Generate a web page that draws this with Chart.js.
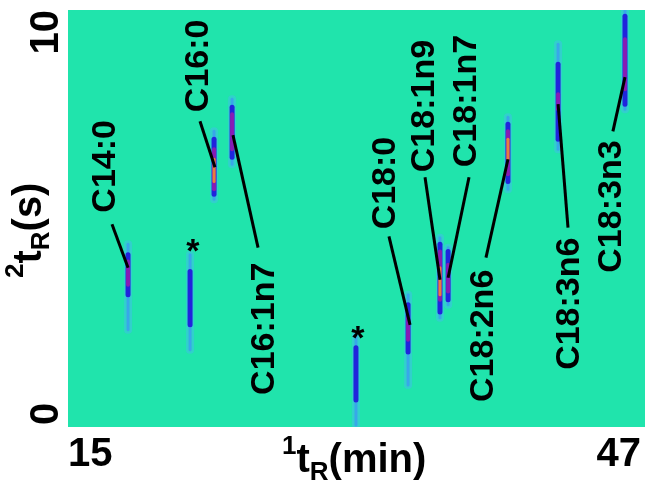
<!DOCTYPE html>
<html>
<head>
<meta charset="utf-8">
<script src="https://cdn.jsdelivr.net/npm/chart.js@4/dist/chart.umd.min.js"></script>
<style>
  html, body { margin: 0; padding: 0; background: #ffffff; }
  #wrap { width: 645px; height: 485px; }
</style>
</head>
<body>
<div id="wrap"><canvas id="gcChart" width="645" height="485"></canvas></div>
<script>
// ejes
const xTicks = [15, 47];
const yTicks = [0, 10];

// picos: 1tR (min) y franjas en 2tR (s) de cada capa de color
const peakX       = [18.33, 21.77, 23.10, 24.10, 30.97, 33.86, 35.63, 36.08, 39.40, 42.18, 45.89];
const haloTop     = [4.38, 4.13, 7.09, 7.86, 2.21, 3.17, 4.54, 4.30, 7.43, 9.18, 9.98];
const haloBottom  = [2.33, 1.85, 5.46, 6.30, 0.05, 1.01, 2.62, 2.93, 5.70, 6.66, 7.62];
const blueTop     = [4.13, 3.73, 6.90, 7.67, 1.90, 2.93, 4.38, 4.21, 7.26, 8.70, 9.85];
const blueBottom  = [3.17, 2.45, 5.58, 6.47, 0.65, 1.80, 2.76, 3.05, 5.89, 6.90, 7.74];
const purpleTop   = [3.97, null, 6.66, 7.50, null, 2.62, 4.21, 3.89, 7.09, 7.98, 9.30];
const purpleBottom= [3.41, null, 5.70, 6.66, null, 2.09, 3.05, 3.25, 6.06, 7.62, 8.10];
const orangeTop   = [null, null, 6.42, null, null, null, 3.82, null, 6.90, null, null];
const orangeBottom= [null, null, 5.89, null, null, null, 3.17, null, 6.42, null, null];

// etiquetas y líneas guía
const labelText  = ['C14:0', 'C16:0', 'C16:1n7', 'C18:0', 'C18:1n9', 'C18:1n7', 'C18:2n6', 'C18:3n6', 'C18:3n3'];
const labelX     = [17.11, 22.27, 25.93, 32.64, 34.80, 37.13, 38.07, 42.84, 45.17];
const labelY     = [5.14, 7.55, 0.77, 4.74, 6.11, 6.23, 0.60, 1.37, 3.70];
const leaderFromX = [17.44, 22.32, 25.54, 32.80, 34.80, 37.24, 38.18, 42.73, 45.22];
const leaderFromY = [4.86, 7.33, 4.30, 4.57, 5.99, 5.99, 4.06, 4.78, 7.09];
const leaderToX   = [18.33, 23.15, 24.15, 33.97, 35.63, 36.08, 39.40, 42.18, 45.89];
const leaderToY   = [3.82, 6.23, 7.00, 2.45, 3.53, 3.58, 6.42, 7.74, 8.39];

// asteriscos
const starX = [21.93, 31.08];
const starY = [4.38, 2.28];

const FONT = '"Liberation Sans", Arial, sans-serif';
const FONDO = '#20e4ac';

// Chart.js pinta primero el order más alto
function capa(tops, bottoms, color, ancho, orden) {
    const sets = [];
    peakX.forEach((x, i) => {
        if (tops[i] === null) return;
        sets.push({
            data: [{ x: x, y: bottoms[i] }, { x: x, y: tops[i] }],
            borderColor: color,
            borderWidth: ancho,
            borderCapStyle: 'round',
            pointRadius: 0,
            showLine: true,
            order: orden
        });
    });
    return sets;
}

let datasets = [];
datasets = datasets.concat(capa(haloTop, haloBottom, 'rgba(70, 185, 245, 0.45)', 8, 6));
datasets = datasets.concat(capa(haloTop, haloBottom, 'rgba(60, 150, 245, 0.7)', 3, 5));
datasets = datasets.concat(capa(blueTop, blueBottom, '#2024dc', 5, 4));
datasets = datasets.concat(capa(purpleTop, purpleBottom, '#861cb4', 4, 3));
datasets = datasets.concat(capa(orangeTop, orangeBottom, '#e6803c', 3, 2));

// líneas guía
labelText.forEach((t, i) => {
    datasets.push({
        data: [{ x: leaderFromX[i], y: leaderFromY[i] }, { x: leaderToX[i], y: leaderToY[i] }],
        borderColor: '#000000',
        borderWidth: 3,
        pointRadius: 0,
        showLine: true,
        order: 0
    });
});

const fondoPlugin = {
    id: 'fondo',
    beforeDatasetsDraw(chart) {
        const a = chart.chartArea;
        const ctx = chart.ctx;
        ctx.save();
        ctx.fillStyle = FONDO;
        ctx.fillRect(a.left, a.top, a.right - a.left, a.bottom - a.top);
        ctx.restore();
    }
};

const textosPlugin = {
    id: 'textos',
    afterDatasetsDraw(chart) {
        const ctx = chart.ctx;
        const xs = chart.scales.x;
        const ys = chart.scales.y;
        ctx.save();
        ctx.fillStyle = '#000000';

        // etiquetas de los picos (verticales)
        ctx.font = 'bold 34px ' + FONT;
        ctx.textAlign = 'left';
        ctx.textBaseline = 'middle';
        labelText.forEach((t, i) => {
            ctx.save();
            ctx.translate(xs.getPixelForValue(labelX[i]), ys.getPixelForValue(labelY[i]));
            ctx.rotate(-Math.PI / 2);
            ctx.fillText(t, 0, 0);
            ctx.restore();
        });

        // asteriscos
        ctx.font = 'bold 34px ' + FONT;
        ctx.textAlign = 'center';
        starX.forEach((x, i) => {
            ctx.fillText('*', xs.getPixelForValue(x), ys.getPixelForValue(starY[i]) + 8);
        });

        // ticks eje x
        ctx.font = 'bold 40px ' + FONT;
        ctx.textBaseline = 'alphabetic';
        xTicks.forEach((v, i) => {
            ctx.textAlign = i === 0 ? 'left' : 'right';
            const px = xs.getPixelForValue(v) + (i === 0 ? 0 : -4);
            ctx.fillText(String(v), px, 466);
        });

        // ticks eje y (rotados)
        ctx.textBaseline = 'middle';
        yTicks.forEach((v, i) => {
            ctx.save();
            ctx.translate(47, ys.getPixelForValue(v) + (i === 0 ? -2 : 0));
            ctx.rotate(-Math.PI / 2);
            ctx.textAlign = i === 0 ? 'left' : 'right';
            ctx.fillText(String(v), 0, 0);
            ctx.restore();
        });

        // título eje x: 1tR(min)
        ctx.textBaseline = 'alphabetic';
        ctx.textAlign = 'left';
        let cx = 282;
        const by = 472;
        ctx.font = 'bold 26px ' + FONT;
        ctx.fillText('1', cx, by - 18);
        cx += ctx.measureText('1').width;
        ctx.font = 'bold 40px ' + FONT;
        ctx.fillText('t', cx, by);
        cx += ctx.measureText('t').width;
        ctx.font = 'bold 26px ' + FONT;
        ctx.fillText('R', cx, by + 8);
        cx += ctx.measureText('R').width;
        ctx.font = 'bold 40px ' + FONT;
        ctx.fillText('(min)', cx, by);

        // título eje y: 2tR(s)
        ctx.save();
        ctx.translate(41, 278);
        ctx.rotate(-Math.PI / 2);
        let cy = 0;
        ctx.font = 'bold 26px ' + FONT;
        ctx.fillText('2', cy, -18);
        cy += ctx.measureText('2').width;
        ctx.font = 'bold 40px ' + FONT;
        ctx.fillText('t', cy, 0);
        cy += ctx.measureText('t').width;
        ctx.font = 'bold 26px ' + FONT;
        ctx.fillText('R', cy, 8);
        cy += ctx.measureText('R').width;
        ctx.font = 'bold 40px ' + FONT;
        ctx.fillText('(s)', cy, 0);
        ctx.restore();

        ctx.restore();
    }
};

const ctx = document.getElementById('gcChart').getContext('2d');
const chart = new Chart(ctx, {
    type: 'scatter',
    data: { datasets: datasets },
    options: {
        responsive: false,
        animation: false,
        layout: { padding: { left: 68, top: 10, right: 0, bottom: 58 } },
        plugins: { legend: { display: false }, tooltip: { enabled: false } },
        scales: {
            x: { type: 'linear', min: xTicks[0], max: xTicks[1], display: false },
            y: { type: 'linear', min: yTicks[0], max: yTicks[1], display: false }
        }
    },
    plugins: [fondoPlugin, textosPlugin]
});
</script>
</body>
</html>
